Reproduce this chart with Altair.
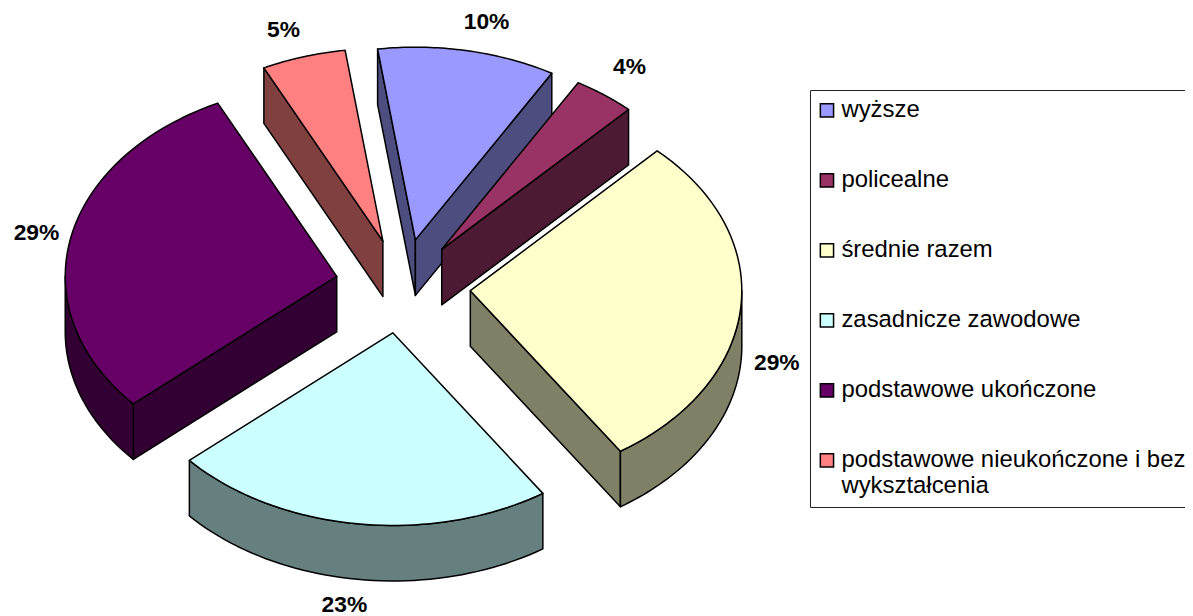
import math
import altair as alt
import pandas as pd

# --- data
categories = ["wyższe", "policealne", "średnie razem", "zasadnicze zawodowe",
              "podstawowe ukończone", "podstawowe nieukończone i bez wykształcenia"]
shares = [10.6, 3.7, 28.6, 22.8, 29.3, 5.0]
labels = ["10%", "4%", "29%", "23%", "29%", "5%"]
top_colors = ["#9999FF", "#993366", "#FFFFCC", "#CCFFFF", "#660066", "#FF8080"]
wall_colors = ["#4D4D80", "#4D1A33", "#808066", "#668080", "#330033", "#804040"]

# --- layout of the tilted, exploded pie (page pixels)
CX, CY = 402.5, 286.6
RX, RY = 271.5, 192.7
DEPTH = 55.5
START = -8.0
explode = [0.247, 0.235, 0.247, 0.247, 0.247, 0.247]
slice_shift = [(0, 0), (1, -1), (1, 0), (-1, -1), (0, -1), (0, 0)]
label_nudge = [(19, -29), (25, -28), (36, 56), (-13, 81), (-34, -6), (-20, -27)]
paint_order = [0, 5, 1, 4, 2, 3]


def rim(ax, ay, deg):
    t = math.radians(deg)
    return [ax + RX * math.sin(t), ay - RY * math.cos(t)]


def poly(points, key):
    ring = [list(p) for p in points] + [list(points[0])]
    return {"type": "Feature", "properties": {"key": key},
            "geometry": {"type": "Polygon", "coordinates": [ring]}}


def steps(a, b, n=48):
    return [a + (b - a) * i / n for i in range(n + 1)]


spans, at = [], START
for s in shares:
    sweep = s / sum(shares) * 360
    spans.append((at, at + sweep))
    at += sweep

faces = {}
text_rows = []
for i, (a, b) in enumerate(spans):
    mid = (a + b) / 2
    m = math.radians(mid)
    ax = CX + explode[i] * RX * math.sin(m) + slice_shift[i][0]
    ay = CY - explode[i] * RY * math.cos(m) + slice_shift[i][1]
    wall_key = categories[i] + " (bok)"
    walls = []
    for edge, sign in ((a, -1), (b, 1)):
        e = rim(ax, ay, edge)
        # outward normal of this radial edge in the picture plane
        dx, dy = e[0] - ax, e[1] - ay
        ny = sign * dx
        if ny > 0:
            walls.append(poly([[ax, ay], e, [e[0], e[1] + DEPTH], [ax, ay + DEPTH]], wall_key))
    fa, fb = max(a, 90), min(b, 270)
    if fa < fb:
        arc = [rim(ax, ay, d) for d in steps(fa, fb)]
        low = [[p[0], p[1] + DEPTH] for p in reversed(arc)]
        walls.append(poly(arc + low, wall_key))
    top = poly([[ax, ay]] + [rim(ax, ay, d) for d in steps(a, b)], categories[i])
    faces[i] = walls + [top]
    o = rim(ax, ay, mid)
    text_rows.append({"x": o[0] + label_nudge[i][0], "y": o[1] + label_nudge[i][1], "label": labels[i]})

features = [f for i in paint_order for f in faces[i]]

domain = categories + [c + " (bok)" for c in categories]
colour_range = top_colors + wall_colors

label_expr = ("datum.label == 'podstawowe nieukończone i bez wykształcenia' "
              "? ['podstawowe nieukończone i bez', 'wykształcenia'] : datum.label")

pie = (
    alt.Chart(alt.Data(values=features))
    .mark_geoshape(stroke="black", strokeWidth=1.5, strokeJoin="round")
    .encode(
        color=alt.Color(
            "properties.key:N",
            scale=alt.Scale(domain=domain, range=colour_range),
            legend=alt.Legend(
                values=categories,
                title=None,
                orient="none",
                legendX=802,
                legendY=82,
                padding=8.5,
                fillColor="white",
                strokeColor="#222222",
                symbolType="square",
                symbolSize=175,
                symbolStrokeColor="black",
                symbolStrokeWidth=1.5,
                symbolOpacity=1,
                symbolOffset=-3.5,
                labelFont="Liberation Sans",
                labelFontSize=23.9,
                labelColor="black",
                labelLimit=0,
                labelOffset=2.5,
                labelExpr=label_expr,
                rowPadding=45,
                columns=1,
            ),
        )
    )
    .project(type="identity", scale=1, translate=[-8, -8])
)

text = (
    alt.Chart(pd.DataFrame(text_rows))
    .mark_text(font="Liberation Sans", fontSize=22.8, fontWeight="bold", color="black")
    .encode(longitude="x:Q", latitude="y:Q", text="label:N")
    .project(type="identity", scale=1, translate=[-8, -8])
)

chart = (
    alt.layer(pie, text)
    .properties(width=1177, height=608, padding=0, autosize=alt.AutoSizeParams(type="none"))
    .configure_view(stroke=None)
)

chart.save("out.html", embed_options={"renderer": "svg", "actions": False})
